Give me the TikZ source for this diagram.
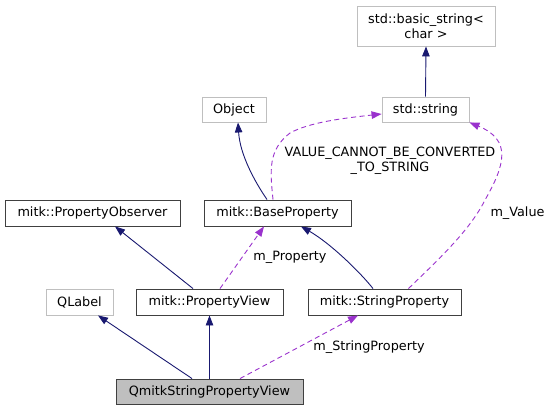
\documentclass[tikz,border=0pt]{standalone}
\usepackage{fontspec}
\setmainfont{DejaVu Sans}
\usetikzlibrary{arrows.meta}
\definecolor{edgeblue}{HTML}{191970}
\definecolor{edgepurple}{HTML}{9A32CD}
\definecolor{boxgray}{HTML}{BFBFBF}
\definecolor{boxdark}{HTML}{404040}
\begin{document}
\begin{tikzpicture}[x=1pt,y=-1pt,
  every node/.style={font=\fontsize{12.8}{15}\selectfont, inner sep=0pt, align=center},
  cls/.style={draw=boxdark, line width=0.9pt, fill=white},
  ext/.style={draw=boxgray, line width=0.9pt, fill=white},
  cur/.style={draw=boxdark, line width=0.9pt, fill=boxgray},
  inh/.style={draw=edgeblue, line width=0.9pt, -{Triangle[length=10pt,width=7.5pt]}, edgeblue},
  use/.style={draw=edgepurple, line width=0.9pt, dash pattern=on 5pt off 3.5pt, -{Triangle[length=10pt,width=7.5pt]}, edgepurple},
  lbl/.style={font=\fontsize{12.8}{15}\selectfont}]
\useasboundingbox (0,0) rectangle (553,411);
\node[ext, minimum width=138pt, minimum height=40pt] (bstr) at (426,26) {std::basic\_string<\\char >};
\node[ext, minimum width=87pt, minimum height=25pt] (str) at (425.5,109.5) {std::string};
\node[ext, minimum width=64pt, minimum height=25pt] (obj) at (234,109.5) {Object};
\node[cls, minimum width=175pt, minimum height=26pt] (pobs) at (92.5,213) {mitk::PropertyObserver};
\node[cls, minimum width=147pt, minimum height=26pt] (bprop) at (277.5,213) {mitk::BaseProperty};
\node[ext, minimum width=67pt, minimum height=26pt] (qlabel) at (79.5,302) {QLabel};
\node[cls, minimum width=147pt, minimum height=26pt] (pview) at (209.5,302) {mitk::PropertyView};
\node[cls, minimum width=153pt, minimum height=26pt] (sprop) at (384.5,302) {mitk::StringProperty};
\node[cur, minimum width=187pt, minimum height=25pt] (qmitk) at (209.5,391.5) {QmitkStringPropertyView};

\draw[inh] (str.north) -- (bstr.south);
\draw[inh] ([xshift=-10.5pt]bprop.north) .. controls (255,182) and (240,155) .. ([xshift=4pt]obj.south);
\draw[use] ([xshift=-4.5pt]bprop.north) .. controls (270,170) and (268,150) .. (290,133) .. controls (310,122) and (345,118) .. ([yshift=-4.5pt]str.west);
\draw[use] ([xshift=24pt]sprop.north) .. controls (440,258) and (470,230) .. (485,200) .. controls (505,165) and (512,140) .. (str.south east);
\draw[inh] ([xshift=-16.5pt]pview.north) -- ([xshift=22.5pt]pobs.south);
\draw[use] ([xshift=10.5pt]pview.north) -- ([xshift=-13.5pt]bprop.south);
\draw[inh] ([xshift=-11.5pt]sprop.north) .. controls (360,272) and (330,243) .. ([xshift=23.5pt]bprop.south);
\draw[inh] ([xshift=-17.5pt]qmitk.north) -- ([xshift=18.5pt]qlabel.south);
\draw[inh] (qmitk.north) -- (pview.south);
\draw[use] ([xshift=30.5pt]qmitk.north) -- ([xshift=-26.5pt]sprop.south);

\node[lbl] (l1) at (390,160.5) {VALUE\_CANNOT\_BE\_CONVERTED\\\_TO\_STRING};
\node[lbl] (l2) at (517.5,213) {m\_Value};
\node[lbl] (l3) at (290,257) {m\_Property};
\node[lbl] (l4) at (369,347) {m\_StringProperty};
\end{tikzpicture}
\end{document}
